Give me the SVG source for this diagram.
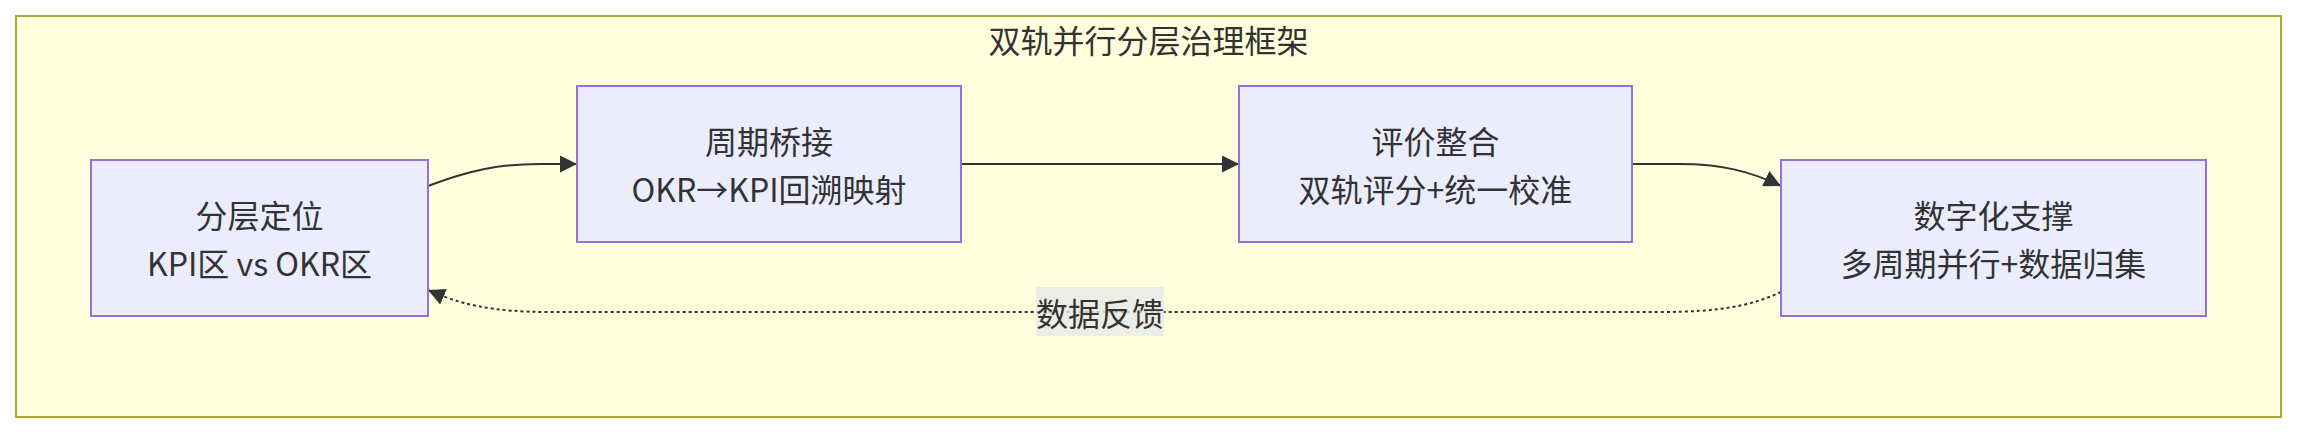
<svg xmlns="http://www.w3.org/2000/svg" width="2297" height="434" viewBox="0 0 2297 434">
  <style>
    text { font-family: "Noto Sans CJK SC", "Noto Sans", sans-serif; font-size: 32px; fill: #333333; text-anchor: middle; dominant-baseline: central; }
    .frame { fill: #ffffde; stroke: #aaaa33; stroke-width: 2; }
    .node rect { fill: #ececff; stroke: #9370db; stroke-width: 2; }
    .edge { fill: none; stroke: #333333; stroke-width: 2; }
    .dotted { stroke-dasharray: 3 3; }
    .lbl { fill: #e8e8e8; opacity: 0.8; }
  </style>
  <defs>
    <marker id="arrow" viewBox="0 0 10 10" refX="10" refY="5" markerUnits="userSpaceOnUse" markerWidth="17" markerHeight="17" orient="auto">
      <path d="M0,0 L10,5 L0,10 z" fill="#333333"/>
    </marker>
  </defs>
  <g id="cluster">
    <rect class="frame" x="16" y="16" width="2265" height="401"/>
    <text x="1148.5" y="39">双轨并行分层治理框架</text>
  </g>
  <g id="connectors">
    <path class="edge" d="M428,186 C470,170 500,164 540,164 L577,164" marker-end="url(#arrow)"/>
    <path class="edge" d="M961,164 L1239,164" marker-end="url(#arrow)"/>
    <path class="edge" d="M1632,164 L1680,164 C1720,164 1750,171 1781,186" marker-end="url(#arrow)"/>
    <path class="edge dotted" d="M1781,292 C1750,306 1720,312 1660,312 L550,312 C490,312 460,304 428,290" marker-end="url(#arrow)"/>
    <g id="edge-label">
      <rect class="lbl" x="1036" y="287" width="128" height="49"/>
      <text x="1100" y="311.5">数据反馈</text>
    </g>
  </g>
  <g id="n1" class="node">
    <rect x="91" y="160" width="337" height="156"/>
    <text x="259.5" y="214">分层定位</text>
    <text x="259.5" y="262">KPI区 vs OKR区</text>
  </g>
  <g id="n2" class="node">
    <rect x="577" y="86" width="384" height="156"/>
    <text x="769" y="140">周期桥接</text>
    <text x="769" y="188">OKR→KPI回溯映射</text>
  </g>
  <g id="n3" class="node">
    <rect x="1239" y="86" width="393" height="156"/>
    <text x="1435.5" y="140">评价整合</text>
    <text x="1435.5" y="188">双轨评分+统一校准</text>
  </g>
  <g id="n4" class="node">
    <rect x="1781" y="160" width="425" height="156"/>
    <text x="1993.5" y="214">数字化支撑</text>
    <text x="1993.5" y="262">多周期并行+数据归集</text>
  </g>
</svg>
